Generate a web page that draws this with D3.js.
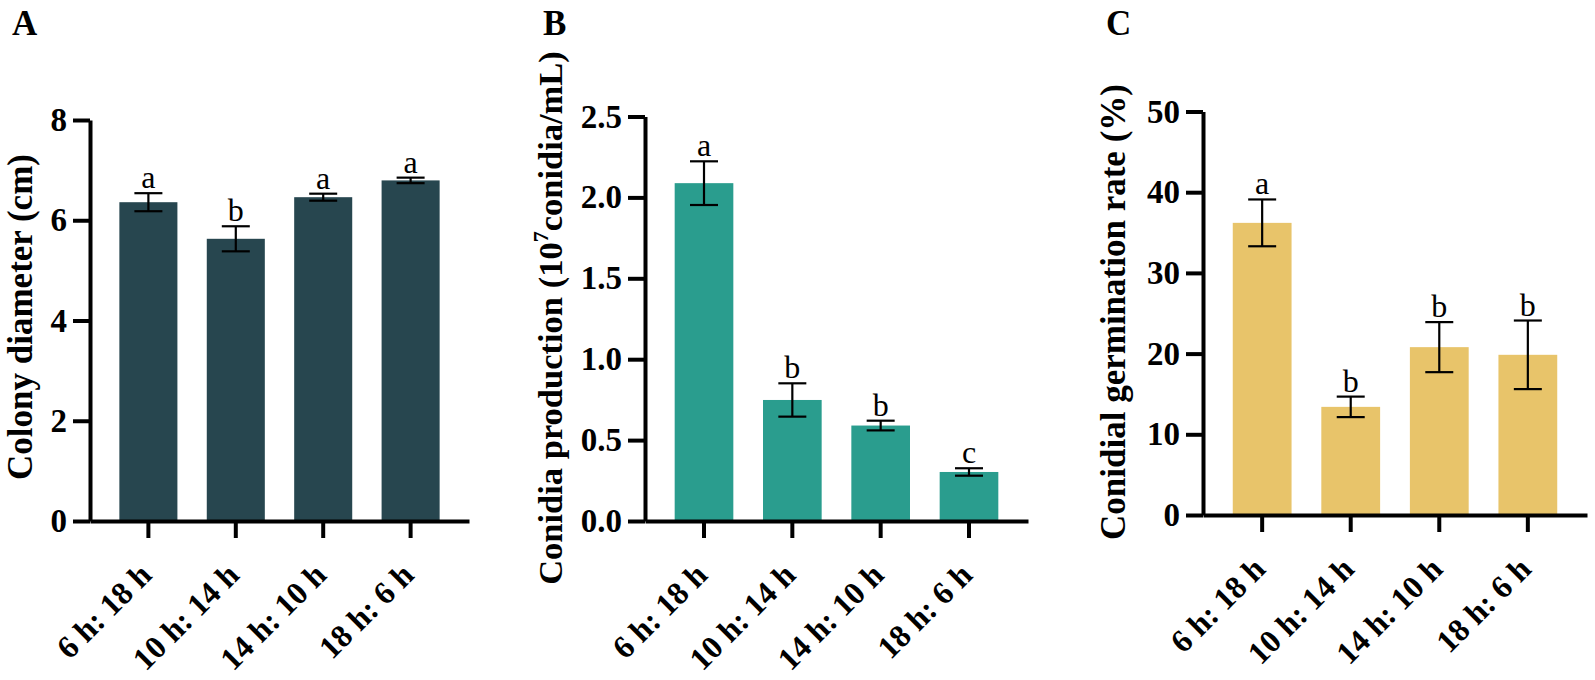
<!DOCTYPE html>
<html>
<head>
<meta charset="utf-8">
<script src="https://cdn.jsdelivr.net/npm/d3@7"></script>
<style>
  html, body { margin: 0; padding: 0; background: #fff; }
  svg { display: block; }
  text { font-family: "Liberation Serif", "Times New Roman", serif; }
</style>
</head>
<body>
<svg id="chart" width="1595" height="680"></svg>
<script>
// ---- data ----
const categories = ["6 h: 18 h", "10 h: 14 h", "14 h: 10 h", "18 h: 6 h"];

const diameterMean = [6.36, 5.63, 6.46, 6.795];
const diameterErr  = [0.18, 0.25, 0.07, 0.055];
const diameterLetters = ["a", "b", "a", "a"];
const diameterTicks = [0, 2, 4, 6, 8];

const conidiaMean = [2.088, 0.748, 0.59, 0.303];
const conidiaErr  = [0.135, 0.103, 0.03, 0.023];
const conidiaLetters = ["a", "b", "b", "c"];
const conidiaTicks = [0, 0.5, 1.0, 1.5, 2.0, 2.5];

const germMean = [36.2, 13.4, 20.8, 19.85];
const germErr  = [2.9, 1.27, 3.1, 4.25];
const germLetters = ["a", "b", "b", "b"];
const germTicks = [0, 10, 20, 30, 40, 50];

const panelLetters = ["A", "B", "C"];
const colors = ["#27464f", "#2a9d8e", "#e8c46a"];

// ---- layout ----
const panels = [
  { letter: panelLetters[0], mean: diameterMean, err: diameterErr, sig: diameterLetters,
    ticks: diameterTicks, fmt: d3.format("d"), max: 8, color: colors[0],
    ax: 90, y0: 521, yTop: 120, xEnd: 469, letterX: 12, labelX: 32, labelY: 317, labelSize: 35,
    ylabel: [{t: "Colony diameter (cm)"}] },
  { letter: panelLetters[1], mean: conidiaMean, err: conidiaErr, sig: conidiaLetters,
    ticks: conidiaTicks, fmt: d3.format(".1f"), max: 2.5, color: colors[1],
    ax: 645, y0: 521, yTop: 116.5, xEnd: 1028, letterX: 543, labelX: 562, labelY: 318, labelSize: 34.5,
    ylabel: [{t: "Conidia production (10"}, {t: "7", sup: true}, {t: "conidia/mL)"}] },
  { letter: panelLetters[2], mean: germMean, err: germErr, sig: germLetters,
    ticks: germTicks, fmt: d3.format("d"), max: 50, color: colors[2],
    ax: 1203, y0: 515, yTop: 111.5, xEnd: 1587, letterX: 1106, labelX: 1125, labelY: 312, labelSize: 35,
    ylabel: [{t: "Conidial germination rate (%)"}] }
];

const svg = d3.select("#chart");
const tickLen = 17;

panels.forEach(p => {
  const g = svg.append("g");
  const y = d3.scaleLinear().domain([0, p.max]).range([p.y0, p.yTop]);
  const x = d3.scaleBand().domain(categories).range([p.ax, p.xEnd]).padding(0.336);

  // bars
  g.selectAll("rect.bar").data(categories).join("rect")
    .attr("class", "bar")
    .attr("x", d => x(d))
    .attr("width", x.bandwidth())
    .attr("y", (d, i) => y(p.mean[i]))
    .attr("height", (d, i) => y(0) - y(p.mean[i]))
    .attr("fill", p.color);

  // error bars
  const capW = 28;
  const eb = g.selectAll("g.err").data(categories).join("g").attr("class", "err")
    .attr("stroke", "#000").attr("stroke-width", 2.2);
  eb.append("line")
    .attr("x1", d => x(d) + x.bandwidth() / 2).attr("x2", d => x(d) + x.bandwidth() / 2)
    .attr("y1", (d, i) => y(p.mean[i] + p.err[i])).attr("y2", (d, i) => y(p.mean[i] - p.err[i]));
  eb.append("line")
    .attr("x1", d => x(d) + x.bandwidth() / 2 - capW / 2).attr("x2", d => x(d) + x.bandwidth() / 2 + capW / 2)
    .attr("y1", (d, i) => y(p.mean[i] + p.err[i])).attr("y2", (d, i) => y(p.mean[i] + p.err[i]));
  eb.append("line")
    .attr("x1", d => x(d) + x.bandwidth() / 2 - capW / 2).attr("x2", d => x(d) + x.bandwidth() / 2 + capW / 2)
    .attr("y1", (d, i) => y(p.mean[i] - p.err[i])).attr("y2", (d, i) => y(p.mean[i] - p.err[i]));

  // significance letters
  g.selectAll("text.sig").data(categories).join("text")
    .attr("class", "sig")
    .attr("x", d => x(d) + x.bandwidth() / 2)
    .attr("y", (d, i) => y(p.mean[i] + p.err[i]) - 5)
    .attr("text-anchor", "middle")
    .attr("font-size", 32)
    .attr("fill", "#000")
    .text((d, i) => p.sig[i]);

  // y axis
  const ya = g.append("g").attr("transform", `translate(${p.ax},0)`)
    .call(d3.axisLeft(y).tickValues(p.ticks).tickFormat(p.fmt).tickSize(tickLen).tickSizeOuter(0).tickPadding(6));
  ya.select(".domain").attr("stroke", "#000").attr("stroke-width", 4);
  ya.selectAll(".tick line").attr("stroke", "#000").attr("stroke-width", 4);
  ya.selectAll(".tick text").attr("font-size", 33).attr("font-weight", "bold").attr("fill", "#000")
    .attr("font-family", "Liberation Serif, Times New Roman, serif");

  // x axis
  const xa = g.append("g").attr("transform", `translate(0,${p.y0})`)
    .call(d3.axisBottom(x).tickSize(tickLen).tickSizeOuter(0));
  xa.select(".domain").attr("stroke", "#000").attr("stroke-width", 4);
  xa.selectAll(".tick line").attr("stroke", "#000").attr("stroke-width", 4);
  xa.selectAll(".tick text")
    .attr("x", 0).attr("y", 0).attr("dy", null)
    .attr("text-anchor", "end")
    .attr("transform", "translate(5,56) rotate(-45)")
    .attr("font-size", 32).attr("font-weight", "bold").attr("fill", "#000")
    .attr("font-family", "Liberation Serif, Times New Roman, serif");

  // y label
  const yl = g.append("text")
    .attr("transform", `translate(${p.labelX},${p.labelY}) rotate(-90)`)
    .attr("text-anchor", "middle")
    .attr("font-size", p.labelSize).attr("font-weight", "bold").attr("fill", "#000");
  p.ylabel.forEach(s => {
    const ts = yl.append("tspan").text(s.t);
    if (s.sup) ts.attr("font-size", 22).attr("dy", -14);
    else if (yl.selectAll("tspan").size() > 1) ts.attr("dy", 14);
  });

  // panel letter
  g.append("text")
    .attr("x", p.letterX).attr("y", 35)
    .attr("font-size", 35).attr("font-weight", "bold").attr("fill", "#000")
    .text(p.letter);
});
</script>
</body>
</html>
